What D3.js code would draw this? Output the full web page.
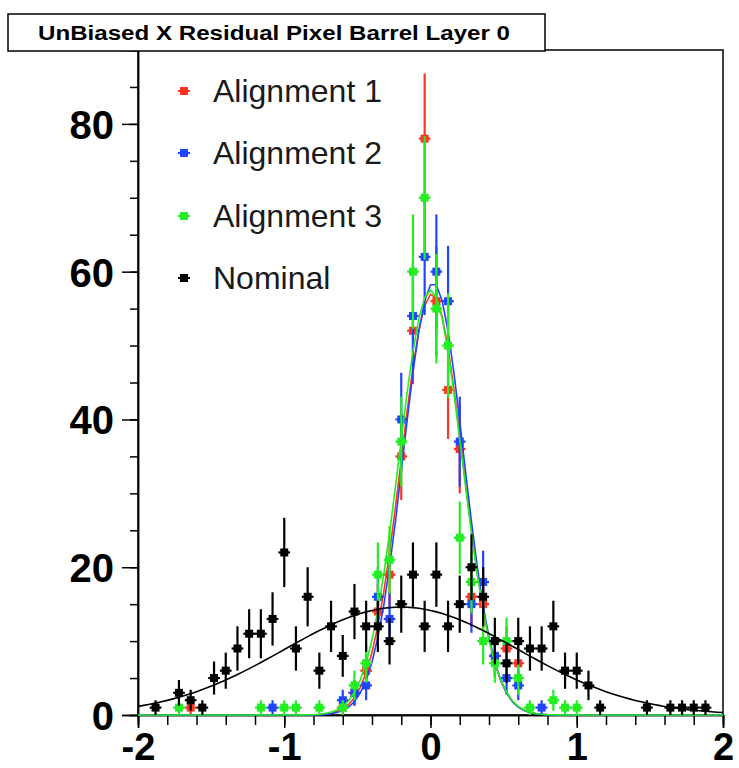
<!DOCTYPE html>
<html>
<head>
<meta charset="utf-8">
<script src="https://cdn.jsdelivr.net/npm/d3@7"></script>
<style>
  body { margin: 0; background: #ffffff; }
  svg { display: block; }
</style>
</head>
<body>
<script>
// Histogram binning: 50 bins on [-2, 2]
const nBins = 50, xLow = -2, xHigh = 2;

const seriesNames  = ["Alignment 1", "Alignment 2", "Alignment 3", "Nominal"];
const seriesColors = ["#ff3322", "#2244ff", "#22ee22", "#000000"];

// Bin contents per series (index = bin number)
const alignment1Counts = [
  0,0,0,0,1,0,0,0,0,0,
  0,0,0,0,0,0,0,1,3,6,
  14,19,35,52,78,56,44,36,16,15,
  8,9,7,0,0,0,0,0,0,0,
  0,0,0,0,0,0,0,0,0,0
];
const alignment2Counts = [
  0,0,0,0,0,0,0,0,0,0,
  0,1,0,0,0,0,0,2,3,4,
  16,13,40,54,62,60,56,37,15,18,
  8,5,4,0,1,0,0,0,0,0,
  0,0,0,0,0,0,0,0,0,0
];
const alignment3Counts = [
  0,0,0,1,0,0,0,0,0,0,
  1,0,1,1,0,1,0,1,4,7,
  19,21,37,60,70,55,50,24,18,10,
  7,10,5,1,0,2,1,1,0,0,
  0,0,0,0,0,0,0,0,0,0
];
const nominalCounts = [
  0,1,0,3,2,1,5,6,9,11,
  11,13,22,9,16,6,12,8,14,12,
  12,10,15,19,12,19,12,15,20,16,
  10,7,10,9,9,12,6,6,4,1,
  0,0,0,1,0,1,1,1,1,0
];

// Gaussian fit parameters per series: constant, mean, sigma
const fitConstants = [57.0, 58.5, 57.5, 14.6];
const fitMeans     = [0.01, 0.02, 0.00, -0.20];
const fitSigmas    = [0.210, 0.205, 0.215, 0.80];

const xTickLabels = [-2, -1, 0, 1, 2];
const yTickLabels = [0, 20, 40, 60, 80];
const yMax = 90;
const titleText = "UnBiased X Residual Pixel Barrel Layer 0";

const W = 739, H = 768;
const frame = { left: 138, right: 723, top: 50, bottom: 715 };

const svg = d3.select("body").append("svg")
  .attr("width", W).attr("height", H)
  .style("font-family", "'Liberation Sans', Arial, Helvetica, sans-serif");

const x = d3.scaleLinear().domain([xLow, xHigh]).range([frame.left, frame.right]);
const y = d3.scaleLinear().domain([0, yMax]).range([frame.bottom, frame.top]);

// Frame
svg.append("rect")
  .attr("x", frame.left).attr("y", frame.top)
  .attr("width", frame.right - frame.left).attr("height", frame.bottom - frame.top)
  .attr("fill", "none").attr("stroke", "#000").attr("stroke-width", 1.5);

// X axis: major ticks every 1, minor every 0.2, drawn below the frame
const xAxis = d3.axisBottom(x).tickValues(xTickLabels).tickSize(13).tickFormat(d3.format("d"));
const xAxisG = svg.append("g").attr("transform", `translate(0,${frame.bottom})`).call(xAxis);
const xMinor = d3.axisBottom(x).tickValues(d3.range(-20, 21, 2).map(v => v / 10)).tickSize(10).tickFormat("");
svg.append("g").attr("transform", `translate(0,${frame.bottom})`).call(xMinor);

// Y axis: major ticks every 20, minor every 5, drawn left of the frame
const yAxis = d3.axisLeft(y).tickValues(yTickLabels).tickSize(16).tickFormat(d3.format("d"));
const yAxisG = svg.append("g").attr("transform", `translate(${frame.left},0)`).call(yAxis);
const yMinor = d3.axisLeft(y).tickValues(d3.range(0, yMax + 1, 5)).tickSize(8).tickFormat("");
svg.append("g").attr("transform", `translate(${frame.left},0)`).call(yMinor);

svg.selectAll(".domain").attr("stroke", "#000").attr("stroke-width", 1.5);
svg.selectAll(".tick line").attr("stroke", "#000").attr("stroke-width", 1.5);

// x labels sit on a baseline just above the lower page edge
xAxisG.selectAll(".tick text")
  .attr("y", 45).attr("dy", null)
  .attr("font-size", 38).attr("font-weight", "bold").attr("fill", "#000")
  .text(d => d < 0 ? "-" + Math.abs(d) : String(d));
yAxisG.selectAll(".tick text")
  .attr("x", -24).attr("dy", "0.36em")
  .attr("font-size", 40).attr("font-weight", "bold").attr("fill", "#000");

// Plot area clip
svg.append("clipPath").attr("id", "plotClip").append("rect")
  .attr("x", frame.left).attr("y", frame.top)
  .attr("width", frame.right - frame.left).attr("height", frame.bottom - frame.top + 2);

const plot = svg.append("g").attr("clip-path", "url(#plotClip)");

const binWidth = (xHigh - xLow) / nBins;
const allCounts = [alignment1Counts, alignment2Counts, alignment3Counts, nominalCounts];

// Gaussian fit curves, sampled over the full axis range
const fitSamples = d3.range(0, 101).map(i => xLow + i * (xHigh - xLow) / 100);
const fitLine = d3.line().x(d => x(d[0])).y(d => y(d[1]));

function drawFit(s) {
  const pts = fitSamples.map(v => [v,
    fitConstants[s] * Math.exp(-0.5 * Math.pow((v - fitMeans[s]) / fitSigmas[s], 2))]);
  plot.append("path").datum(pts)
    .attr("d", fitLine)
    .attr("fill", "none")
    .attr("stroke", seriesColors[s])
    .attr("stroke-width", 1.6);
}

function drawHist(s) {
  const pts = allCounts[s]
    .map((n, i) => ({ c: xLow + (i + 0.5) * binWidth, n }))
    .filter(d => d.n > 0);
  const g = plot.append("g").attr("stroke", seriesColors[s]).attr("fill", seriesColors[s]);
  // vertical error bars (sqrt N)
  g.selectAll("line.ey").data(pts).join("line").attr("class", "ey")
    .attr("x1", d => x(d.c)).attr("x2", d => x(d.c))
    .attr("y1", d => y(d.n - Math.sqrt(d.n))).attr("y2", d => y(d.n + Math.sqrt(d.n)))
    .attr("stroke-width", 2.2);
  // horizontal bin-width bars
  g.selectAll("line.ex").data(pts).join("line").attr("class", "ex")
    .attr("x1", d => x(d.c - binWidth / 2)).attr("x2", d => x(d.c + binWidth / 2))
    .attr("y1", d => y(d.n)).attr("y2", d => y(d.n))
    .attr("stroke-width", 2.2);
  // square markers
  g.selectAll("rect").data(pts).join("rect")
    .attr("x", d => x(d.c) - 4).attr("y", d => y(d.n) - 4)
    .attr("width", 8).attr("height", 8).attr("stroke", "none");
}

[0, 1, 2].forEach(s => { drawHist(s); drawFit(s); });
drawFit(3);
drawHist(3);

// Legend
const legendRowY = [91, 153, 216, 278];
const legend = svg.append("g");
seriesNames.forEach((name, i) => {
  const cy = legendRowY[i];
  const lg = legend.append("g").attr("fill", seriesColors[i]).attr("stroke", seriesColors[i]);
  lg.append("line").attr("x1", 178).attr("x2", 190).attr("y1", cy).attr("y2", cy).attr("stroke-width", 2);
  lg.append("rect").attr("x", 180).attr("y", cy - 4).attr("width", 8).attr("height", 8).attr("stroke", "none");
  legend.append("text")
    .attr("x", 213).attr("y", cy + 11)
    .attr("font-size", 32).attr("fill", "#1a1a1a")
    .text(name);
});

// Title box
svg.append("rect")
  .attr("x", 8).attr("y", 14).attr("width", 537).attr("height", 37)
  .attr("fill", "#fff").attr("stroke", "#000").attr("stroke-width", 1.5);
svg.append("text")
  .attr("x", 38).attr("y", 40)
  .attr("font-size", 20).attr("font-weight", "bold").attr("fill", "#000")
  .attr("textLength", 472).attr("lengthAdjust", "spacingAndGlyphs")
  .text(titleText);
</script>
</body>
</html>
